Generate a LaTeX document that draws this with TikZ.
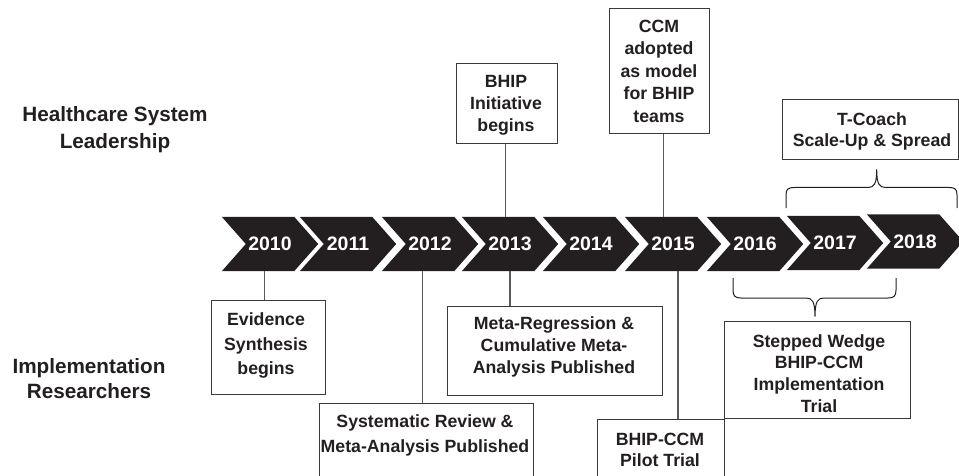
\documentclass[tikz,border=0pt]{standalone}
\usepackage{fontspec}
\setmainfont{Liberation Sans}
\definecolor{ink}{HTML}{231F20}
\definecolor{boxgray}{HTML}{3A3A3A}
\definecolor{linegray}{HTML}{5A5A5A}
\pgfdeclarelayer{bg}
\pgfsetlayers{bg,main}
\begin{document}
\begin{tikzpicture}[x=1pt,y=-1pt,
  year/.style={minimum width=48pt, minimum height=54pt, inner sep=0pt, text=white, font=\fontsize{19.5}{20}\selectfont\bfseries},
  box/.style={draw=boxgray, line width=0.9pt, inner sep=0pt, anchor=north west},
  btext/.style={text=ink, align=center, inner sep=0pt},
  link/.style={draw=linegray, line width=1.1pt},
  bracket/.style={draw=ink, line width=1pt},
  lane/.style={text=ink, align=center, inner sep=0pt, font=\fontsize{20.7}{26}\selectfont\bfseries}]
\useasboundingbox (0,0) rectangle (959,476);
\clip (0,0) rectangle (959,476);

% lane labels
\node[lane, font=\fontsize{20.7}{26.7}\selectfont\bfseries] (hcT) at (115,129.3) {Healthcare System\\Leadership};
\node[lane, font=\fontsize{20.7}{25}\selectfont\bfseries] (irT) at (89,378.5) {Implementation\\Researchers};

% timeline
\node[year] (y2010) at (270,244) {2010};
\node[year] (y2011) at (348,244) {2011};
\node[year] (y2012) at (430,244) {2012};
\node[year] (y2013) at (510,244) {2013};
\node[year] (y2014) at (591,244) {2014};
\node[year] (y2015) at (673,244) {2015};
\node[year] (y2016) at (755,244) {2016};
\node[year] (y2017) at (835,243) {2017};
\node[year] (y2018) at (915,241.5) {2018};
\begin{pgfonlayer}{bg}
\foreach \n in {y2010,y2011,y2012,y2013,y2014,y2015,y2016,y2017,y2018}{
  \fill[ink] ([xshift=-24pt]\n.north west) -- (\n.north east) -- ([xshift=24pt]\n.east)
    -- (\n.south east) -- ([xshift=-24pt]\n.south west) -- (\n.west) -- cycle;
}
\end{pgfonlayer}

% boxes
\node[box, minimum width=114.6pt, minimum height=94pt] (ev) at (210.7,300) {};
\node[box, minimum width=214.3pt, minimum height=90pt] (sys) at (319,403.3) {};
\node[box, minimum width=215pt, minimum height=89.3pt] (meta) at (446.7,305.7) {};
\node[box, minimum width=126.7pt, minimum height=80pt] (pilot) at (597.3,419.3) {};
\node[box, minimum width=186pt, minimum height=97.6pt] (sw) at (724,320.7) {};
\node[box, minimum width=100.7pt, minimum height=79.4pt] (bhip) at (456,63.3) {};
\node[box, minimum width=100.3pt, minimum height=124.4pt] (ccm) at (609,8.3) {};
\node[box, minimum width=176pt, minimum height=60pt] (tc) at (782.3,99.3) {};

% box texts
\node[btext, font=\fontsize{17.7}{24.7}\selectfont\bfseries] (evT) at (266,345.5) {Evidence\\Synthesis\\begins};
\node[btext, font=\fontsize{17.7}{24.4}\selectfont\bfseries] (sysT) at (425,435.5) {Systematic Review \&\\Meta-Analysis Published};
\node[btext, font=\fontsize{17.7}{22}\selectfont\bfseries] (metaT) at (554,346.5) {Meta-Regression \&\\Cumulative Meta-\\Analysis Published};
\node[btext, font=\fontsize{17.7}{21.7}\selectfont\bfseries] (pilotT) at (660,450) {BHIP-CCM\\Pilot Trial};
\node[btext, font=\fontsize{17.7}{21.7}\selectfont\bfseries] (swT) at (819,373.5) {Stepped Wedge\\BHIP-CCM\\Implementation\\Trial};
\node[btext, font=\fontsize{17.7}{22.2}\selectfont\bfseries] (bhipT) at (506,105) {BHIP\\Initiative\\begins};
\node[btext, font=\fontsize{17.7}{22.5}\selectfont\bfseries] (ccmT) at (659,71) {CCM\\adopted\\as model\\for BHIP\\teams};
\node[btext, font=\fontsize{17.7}{21.7}\selectfont\bfseries] (tcT) at (872,131.5) {T-Coach\\Scale-Up \& Spread};

% connectors
\draw[link] ([xshift=-4pt]ev.north) -- ([xshift=-4pt]ev.north |- y2010.south);
\draw[link] ([xshift=-4pt]sys.north) -- ([xshift=-4pt]sys.north |- y2012.south);
\draw[link] (y2013.south) -- (y2013.south |- meta.north);
\draw[link] ([xshift=5pt]y2015.south) -- ([xshift=5pt]y2015.south |- pilot.north);
\draw[link] ([xshift=-1pt]bhip.south) -- ([xshift=-1pt]bhip.south |- y2013.north);
\draw[link] ([xshift=4pt]ccm.south) -- ([xshift=4pt]ccm.south |- y2015.north);

% brackets
\draw[bracket] (786,208) -- (786,195) .. controls (786,189) and (788,187.5) .. (795,187.5)
  -- (868,187.5) .. controls (874,187.5) and (876.7,184) .. (876.7,169.5)
  .. controls (876.7,184) and (879.4,187.5) .. (885.4,187.5)
  -- (949,187.5) .. controls (955,187.5) and (957,189) .. (957,195) -- (957,208);
\draw[bracket] (733,278) -- (733,290) .. controls (733,296) and (735,298) .. (741,298)
  -- (806,298) .. controls (812,298) and (815,301) .. (815,316.7)
  .. controls (815,301) and (818,298) .. (824,298)
  -- (888,298) .. controls (894,298) and (896,296) .. (896,290) -- (896,278);
\end{tikzpicture}
\end{document}
